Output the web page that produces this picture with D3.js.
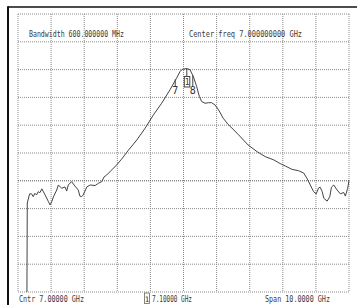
<!DOCTYPE html>
<html><head><meta charset="utf-8">
<script src="https://cdn.jsdelivr.net/npm/d3@7"></script>
<style>html,body{margin:0;padding:0;background:#fff;}svg{display:block;}</style>
</head><body>
<svg id="c" width="357" height="305"></svg>
<script>
// Frequency (GHz) and level (dB) of the trace
const freqs = [2.27,2.28,2.35,2.41,2.46,2.51,2.56,2.61,2.66,2.72,2.82,2.92,2.97,3.02,3.07,3.17,3.22,3.32,3.42,3.47,3.52,3.62,3.72,3.82,3.87,3.92,3.97,4.08,4.18,4.33,4.43,4.53,4.60,4.68,4.83,4.98,5.13,5.33,5.59,5.84,6.09,6.34,6.59,6.79,6.89,6.96,7.10,7.20,7.30,7.40,7.48,7.55,7.65,7.76,7.85,7.95,8.06,8.20,8.34,8.62,8.95,9.22,9.47,9.73,9.92,10.08,10.28,10.48,10.63,10.73,10.83,10.93,11.01,11.08,11.13,11.19,11.24,11.34,11.42,11.47,11.54,11.64,11.74,11.84,11.89,11.96,12.0];
const levels = [-100,-68.0,-64.7,-64.7,-65.7,-64.5,-65.1,-63.9,-64.3,-62.9,-65.1,-67.5,-68.7,-67.5,-65.8,-63.3,-61.5,-62.7,-62.2,-63.7,-61.5,-60.3,-61.9,-63.3,-65.5,-65.7,-65.1,-62.2,-61.5,-61.7,-60.9,-60.3,-58.6,-57.9,-56.1,-54.3,-52.2,-49.1,-45.3,-41.1,-36.3,-32.1,-27.3,-23.1,-20.8,-19.9,-19.6,-20.1,-22.6,-26.2,-29.7,-31.5,-32.1,-31.9,-31.9,-32.7,-34.5,-37.5,-39.6,-42.9,-47.1,-49.5,-51.3,-52.5,-53.8,-54.7,-55.9,-56.4,-57.2,-59.1,-61.5,-63.9,-64.7,-62.6,-62.3,-63.9,-66.3,-67.3,-65.7,-62.3,-61.5,-63.3,-64.7,-64.2,-65.5,-62.7,-59.9];
const xTicks = [2,3,4,5,6,7,8,9,10,11,12];
const yTicks = [0,-10,-20,-30,-40,-50,-60,-70,-80,-90,-100];
const topLabels = ["Bandwidth 600.000000 MHz","Center freq 7.000000000 GHz"];
const bottomLabels = ["Cntr 7.00000 GHz","7.10000 GHz","Span 10.0000 GHz"];
const markerFreq = 7.10, markerLevel = -19.6;
const bwMarkers = [{f:6.75, l:-23.5, s:"7"},{f:7.28, l:-22.0, s:"8"}];

const svg = d3.select("#c");
const x = d3.scaleLinear().domain([2,12]).range([18,349]);
const y = d3.scaleLinear().domain([0,-100]).range([14,292]);
const font = "'DejaVu Sans Mono', monospace";

// outer frame
svg.append("line").attr("x1",8).attr("x2",357).attr("y1",7).attr("y2",7).attr("stroke","#111").attr("stroke-width",1.5);
svg.append("line").attr("x1",8).attr("x2",8).attr("y1",6.3).attr("y2",305).attr("stroke","#111").attr("stroke-width",2);

// grid
const g = svg.append("g");
g.selectAll("line.v").data(xTicks).join("line").attr("class","v")
  .attr("x1",d=>x(d)).attr("x2",d=>x(d)).attr("y1",y(0)).attr("y2",y(-100))
  .attr("stroke","#8a8a8a").attr("stroke-width",1).attr("stroke-dasharray","1,1");
g.selectAll("line.h").data(yTicks).join("line").attr("class","h")
  .attr("x1",x(2)).attr("x2",x(12)).attr("y1",d=>y(d)).attr("y2",d=>y(d))
  .attr("stroke",d=>d===-60?"#555":"#8a8a8a").attr("stroke-width",1).attr("stroke-dasharray","1,1");

// trace
const pts = freqs.map((f,i)=>[f,levels[i]]);
svg.append("path").datum(pts)
  .attr("d", d3.line().x(d=>x(d[0])).y(d=>y(d[1])))
  .attr("fill","none").attr("stroke","#444").attr("stroke-width",1);

// marker 1
const mx = x(markerFreq);
svg.append("line").attr("x1",mx).attr("x2",mx).attr("y1",y(markerLevel)).attr("y2",y(markerLevel)+8).attr("stroke","#444");
svg.append("rect").attr("x",mx-2.5).attr("y",y(markerLevel)+8).attr("width",5.5).attr("height",10.5).attr("fill","#fff").attr("stroke","#444");
svg.append("text").attr("x",mx+0.3).attr("y",y(markerLevel)+16.5).attr("text-anchor","middle")
  .attr("font-family",font).attr("font-size",8).attr("fill","#333").text("1");

// bandwidth markers
bwMarkers.forEach(m=>{
  const bx = x(m.f);
  svg.append("line").attr("x1",bx).attr("x2",bx).attr("y1",y(m.l)).attr("y2",87).attr("stroke","#444");
  svg.append("text").attr("x",bx).attr("y",93.5).attr("text-anchor","middle")
    .attr("font-family",font).attr("font-size",10).attr("fill","#333").text(m.s);
});

// text labels
function lbl(t,xx,yy,len){
  svg.append("text").attr("x",xx).attr("y",yy).attr("font-family",font).attr("font-size",8.5)
    .attr("fill","#3a3a3a").attr("textLength",len).attr("lengthAdjust","spacingAndGlyphs").text(t);
}
lbl(topLabels[0],29,37,95);
lbl(topLabels[1],189,37,113);
lbl(bottomLabels[0],19,301.5,65);
lbl(bottomLabels[1],152,301.5,40);
lbl(bottomLabels[2],265,301.5,65);
svg.append("rect").attr("x",144.5).attr("y",293).attr("width",5).attr("height",10.5).attr("fill","none").attr("stroke","#666").attr("stroke-width",0.8);
svg.append("text").attr("x",147).attr("y",301.5).attr("text-anchor","middle").attr("font-family",font).attr("font-size",7.5).attr("fill","#333").text("1");
</script>
</body></html>
